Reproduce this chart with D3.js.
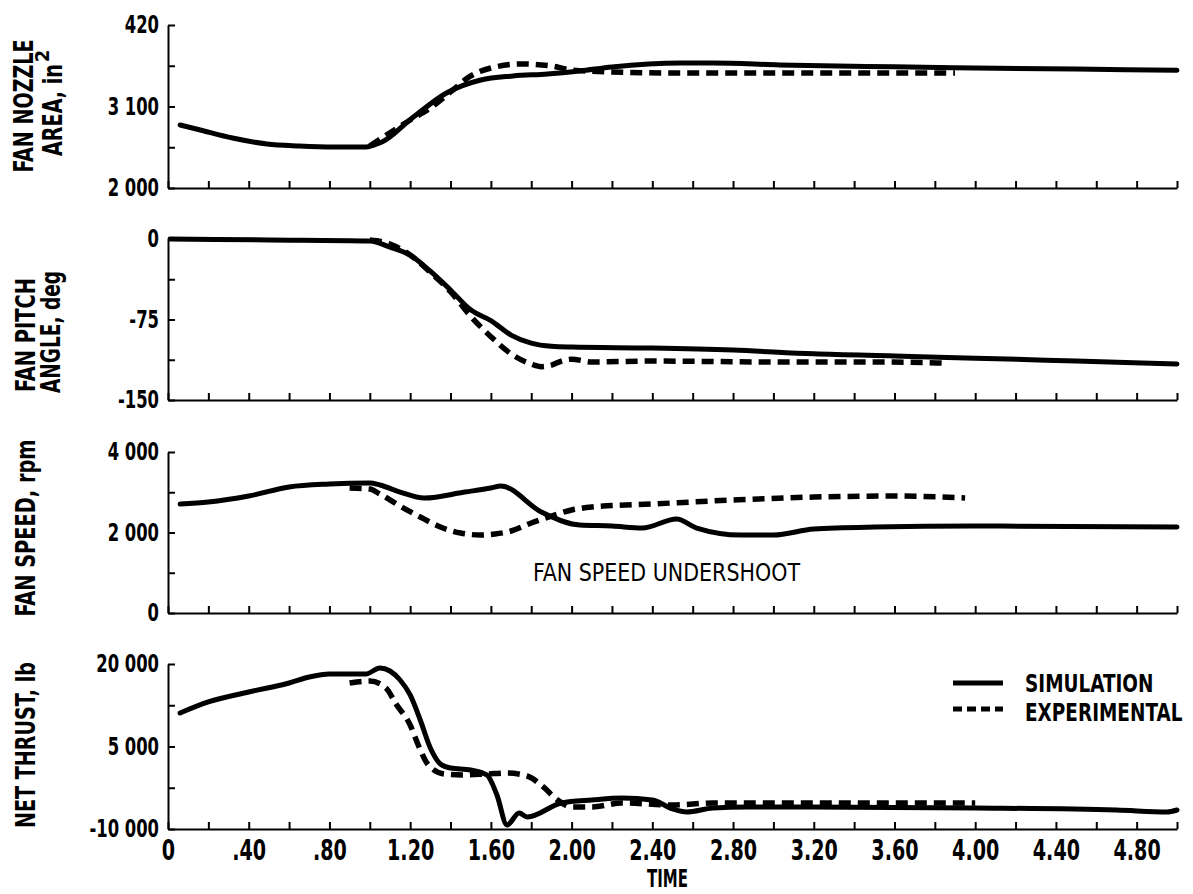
<!DOCTYPE html>
<html>
<head>
<meta charset="utf-8">
<script src="https://cdn.jsdelivr.net/npm/d3@7"></script>
<style>
  body { margin: 0; background: #fff; }
  text { font-family: "Liberation Sans Narrow", "DejaVu Sans Condensed", "Roboto Condensed", sans-serif; font-weight: bold; fill: #000; }
</style>
</head>
<body>
<svg id="chart"></svg>
<script>
const width  = 1193
const height = 894

// time axis
const xTicks      = d3.range(0, 5.0001, 0.2)
const xLabelVals  = [0, 0.4, 0.8, 1.2, 1.6, 2.0, 2.4, 2.8, 3.2, 3.6, 4.0, 4.4, 4.8]
const xLabelTexts = ["0", ".40", ".80", "1.20", "1.60", "2.00", "2.40", "2.80", "3.20", "3.60", "4.00", "4.40", "4.80"]

// fan nozzle area, in^2  [time, value]
const nozzleTicks  = [2000, 2550, 3100, 3650, 4200]
const nozzleLabels = ["2 000", "", "3 100", "", "420"]
const nozzleSim = [[0.06,2850],[0.16,2783],[0.32,2675],[0.49,2594],[0.65,2567],[0.82,2553],[0.98,2553],
  [1.02,2580],[1.06,2620],[1.21,2945],[1.38,3283],[1.55,3458],[1.71,3512],[1.88,3539],[2.04,3580],
  [2.2,3634],[2.54,3688],[2.7,3688],[3.03,3661],[3.6,3635],[4.0,3620],[4.5,3605],[5.0,3590]]
const nozzleExp = [[1.0,2567],[1.06,2675],[1.2,2918],[1.3,3080],[1.4,3296],[1.5,3512],[1.6,3620],
  [1.75,3674],[1.9,3647],[2.0,3593],[2.2,3566],[2.5,3552],[3.0,3552],[3.5,3552],[3.9,3552]]

// fan pitch angle, deg
const pitchTicks  = [-150, -112.5, -75, -37.5, 0]
const pitchLabels = ["-150", "", "-75", "", "0"]
const pitchSim = [[0.01,0],[0.5,-0.9],[1.0,-1.9],[1.1,-7.5],[1.2,-15],[1.3,-30],[1.4,-47.5],[1.5,-66],
  [1.6,-76],[1.7,-89.5],[1.8,-97],[1.9,-100],[2.0,-100.7],[2.4,-101.6],[2.8,-103.5],[3.2,-107],
  [3.6,-109],[4.0,-111],[4.5,-113.7],[5.0,-116.5]]
const pitchExp = [[1.0,-1],[1.1,-4.7],[1.2,-15],[1.3,-31],[1.4,-49],[1.5,-72],[1.6,-91],[1.7,-107],
  [1.8,-116.5],[1.85,-119],[1.9,-117.5],[1.95,-113.7],[2.0,-112],[2.1,-114.6],[2.4,-113.7],
  [3.0,-114.6],[3.5,-114.6],[3.85,-115.6]]

// fan speed, rpm
const speedTicks  = [0, 1000, 2000, 3000, 4000]
const speedLabels = ["0", "", "2 000", "", "4 000"]
const speedSim = [[0.06,2708],[0.2,2757],[0.4,2906],[0.6,3130],[0.8,3204],[1.0,3229],[1.05,3180],
  [1.15,3005],[1.27,2857],[1.47,3005],[1.6,3105],[1.65,3155],[1.85,2509],[2.04,2186],[2.2,2161],
  [2.35,2111],[2.52,2335],[2.62,2111],[2.84,1938],[3.0,1938],[3.2,2087],[3.5,2136],[4.0,2161],[5.0,2136]]
const speedExp = [[0.9,3105],[1.0,3080],[1.05,2956],[1.15,2658],[1.25,2385],[1.35,2136],[1.45,1987],
  [1.55,1938],[1.62,1962],[1.7,2037],[1.8,2236],[1.9,2409],[2.0,2559],[2.1,2633],[2.4,2708],
  [2.8,2807],[3.2,2881],[3.6,2906],[3.95,2857]]

// net thrust, lb
const thrustTicks  = [-10000, -2500, 5000, 12500, 20000]
const thrustLabels = ["-10 000", "", "5 000", "", "20 000"]
const thrustSim = [[0.06,11092],[0.2,13092],[0.4,14910],[0.6,16546],[0.7,17637],[0.8,18182],[0.98,18182],
  [1.05,19273],[1.1,18727],[1.15,17091],[1.2,14364],[1.25,9819],[1.3,4728],[1.35,1820],[1.4,1093],
  [1.5,729],[1.58,-180],[1.63,-3816],[1.68,-9270],[1.74,-7088],[1.78,-7815],[1.95,-5270],[2.1,-4725],
  [2.25,-4361],[2.4,-4725],[2.5,-6361],[2.57,-6906],[2.7,-6179],[2.87,-5997],[3.0,-5997],[4.0,-6179],
  [4.7,-6543],[4.95,-6906],[5.0,-6543]]
const thrustExp = [[0.9,16546],[1.0,16910],[1.08,15637],[1.13,12728],[1.2,8910],[1.24,5274],[1.29,1638],
  [1.37,-2],[1.46,-180],[1.58,0],[1.68,182],[1.78,-363],[1.86,-2361],[1.93,-4725],[2.0,-5997],
  [2.1,-5997],[2.25,-5270],[2.5,-5634],[2.7,-5270],[3.0,-5270],[4.0,-5270]]

const legendNames = ["SIMULATION", "EXPERIMENTAL"]

// title lines: [text, baseline x, centre y, length]
const panels = [
  { top: 25,  bottom: 188, ticks: nozzleTicks, labels: nozzleLabels, sim: nozzleSim, exp: nozzleExp,
    title: [["FAN NOZZLE", 33, 106, 133], ["AREA, in", 62, 110, 92]] },
  { top: 239, bottom: 400, ticks: pitchTicks,  labels: pitchLabels,  sim: pitchSim,  exp: pitchExp,
    title: [["FAN PITCH", 35, 335, 114], ["ANGLE, deg", 60, 332, 122]] },
  { top: 452, bottom: 613, ticks: speedTicks,  labels: speedLabels,  sim: speedSim,  exp: speedExp,
    title: [["FAN SPEED, rpm", 35, 528, 177]] },
  { top: 664, bottom: 829, ticks: thrustTicks, labels: thrustLabels, sim: thrustSim, exp: thrustExp,
    title: [["NET THRUST, lb", 35, 745, 166]] }
]

const squeeze = 0.76   // the lettering of the scan is narrow

let svg = d3.select("#chart")
            .attr("width", width)
            .attr("height", height)

const x = d3.scaleLinear().domain([0, 5]).range([168, 1177])

panels.forEach((p, pi) => {
    const y = d3.scaleLinear()
                .domain([p.ticks[0], p.ticks[p.ticks.length - 1]])
                .range([p.bottom, p.top])

    // y axis, ticks pointing inward
    const yAxis = svg.append("g")
        .attr("transform", `translate(${x(0)},0)`)
        .call(d3.axisLeft(y)
            .tickValues(p.ticks)
            .tickSize(-7)
            .tickSizeOuter(0)
            .tickPadding(9)
            .tickFormat((d, i) => p.labels[i]))
    yAxis.attr("font-family", null)
    yAxis.selectAll("text")
        .style("font-size", "24px")
        .attr("x", -9 / squeeze)
        .attr("transform", `scale(${squeeze},1)`)
    yAxis.selectAll("path, line").attr("stroke", "#000").attr("stroke-width", 2)

    // x axis
    const isLast = pi === panels.length - 1
    const xAxis = svg.append("g")
        .attr("transform", `translate(0,${p.bottom})`)
        .call(d3.axisBottom(x)
            .tickValues(xTicks)
            .tickSize(-7)
            .tickSizeOuter(0)
            .tickPadding(11)
            .tickFormat(d => {
                if (!isLast) return ""
                const k = xLabelVals.findIndex(v => Math.abs(v - d) < 1e-6)
                return k < 0 ? "" : xLabelTexts[k]
            }))
    xAxis.attr("font-family", null)
    xAxis.selectAll("text")
        .style("font-size", "28px")
        .attr("transform", `scale(${squeeze},1)`)
    xAxis.selectAll("path, line").attr("stroke", "#000").attr("stroke-width", 2)

    const line = d3.line()
        .x(d => x(d[0]))
        .y(d => y(d[1]))
        .curve(d3.curveMonotoneX)

    svg.append("path")
        .datum(p.exp)
        .attr("d", line)
        .attr("fill", "none")
        .attr("stroke", "#000")
        .attr("stroke-width", 5.5)
        .attr("stroke-dasharray", "12,7")

    svg.append("path")
        .datum(p.sim)
        .attr("d", line)
        .attr("fill", "none")
        .attr("stroke", "#000")
        .attr("stroke-width", 5)
        .attr("stroke-linejoin", "round")
        .attr("stroke-linecap", "round")

    // rotated axis titles
    p.title.forEach((t, ti) => {
        svg.append("text")
            .attr("transform", `translate(${t[1]},${t[2]}) rotate(-90)`)
            .attr("text-anchor", "middle")
            .attr("textLength", t[3])
            .attr("lengthAdjust", "spacingAndGlyphs")
            .style("font-size", "26px")
            .text(t[0])
        if (pi === 0 && ti === 1) {
            svg.append("text")
                .attr("transform", `translate(${t[1] - 13},${t[2] - t[3] / 2 - 8}) rotate(-90)`)
                .attr("text-anchor", "middle")
                .style("font-size", "20px")
                .text("2")
        }
    })
})

// annotation
svg.append("text")
    .attr("x", 533)
    .attr("y", 581)
    .attr("textLength", 267)
    .attr("lengthAdjust", "spacingAndGlyphs")
    .style("font-size", "25px")
    .style("font-weight", "normal")
    .text("FAN SPEED UNDERSHOOT")

// x title
svg.append("text")
    .attr("x", 647)
    .attr("y", 887)
    .attr("textLength", 41)
    .attr("lengthAdjust", "spacingAndGlyphs")
    .style("font-size", "24px")
    .text("TIME")

// legend
const legend = svg.append("g")
legend.selectAll("line")
    .data(legendNames)
    .enter().append("line")
    .attr("x1", 953)
    .attr("x2", 1003)
    .attr("y1", (d, i) => 683 + i * 26)
    .attr("y2", (d, i) => 683 + i * 26)
    .attr("stroke", "#000")
    .attr("stroke-width", 5)
    .attr("stroke-dasharray", (d, i) => i === 0 ? null : "9,5")
legend.selectAll("text")
    .data(legendNames)
    .enter().append("text")
    .attr("transform", (d, i) => `translate(1025,${692 + i * 29}) scale(0.82,1)`)
    .style("font-size", "25px")
    .text(d => d)
</script>
</body>
</html>
